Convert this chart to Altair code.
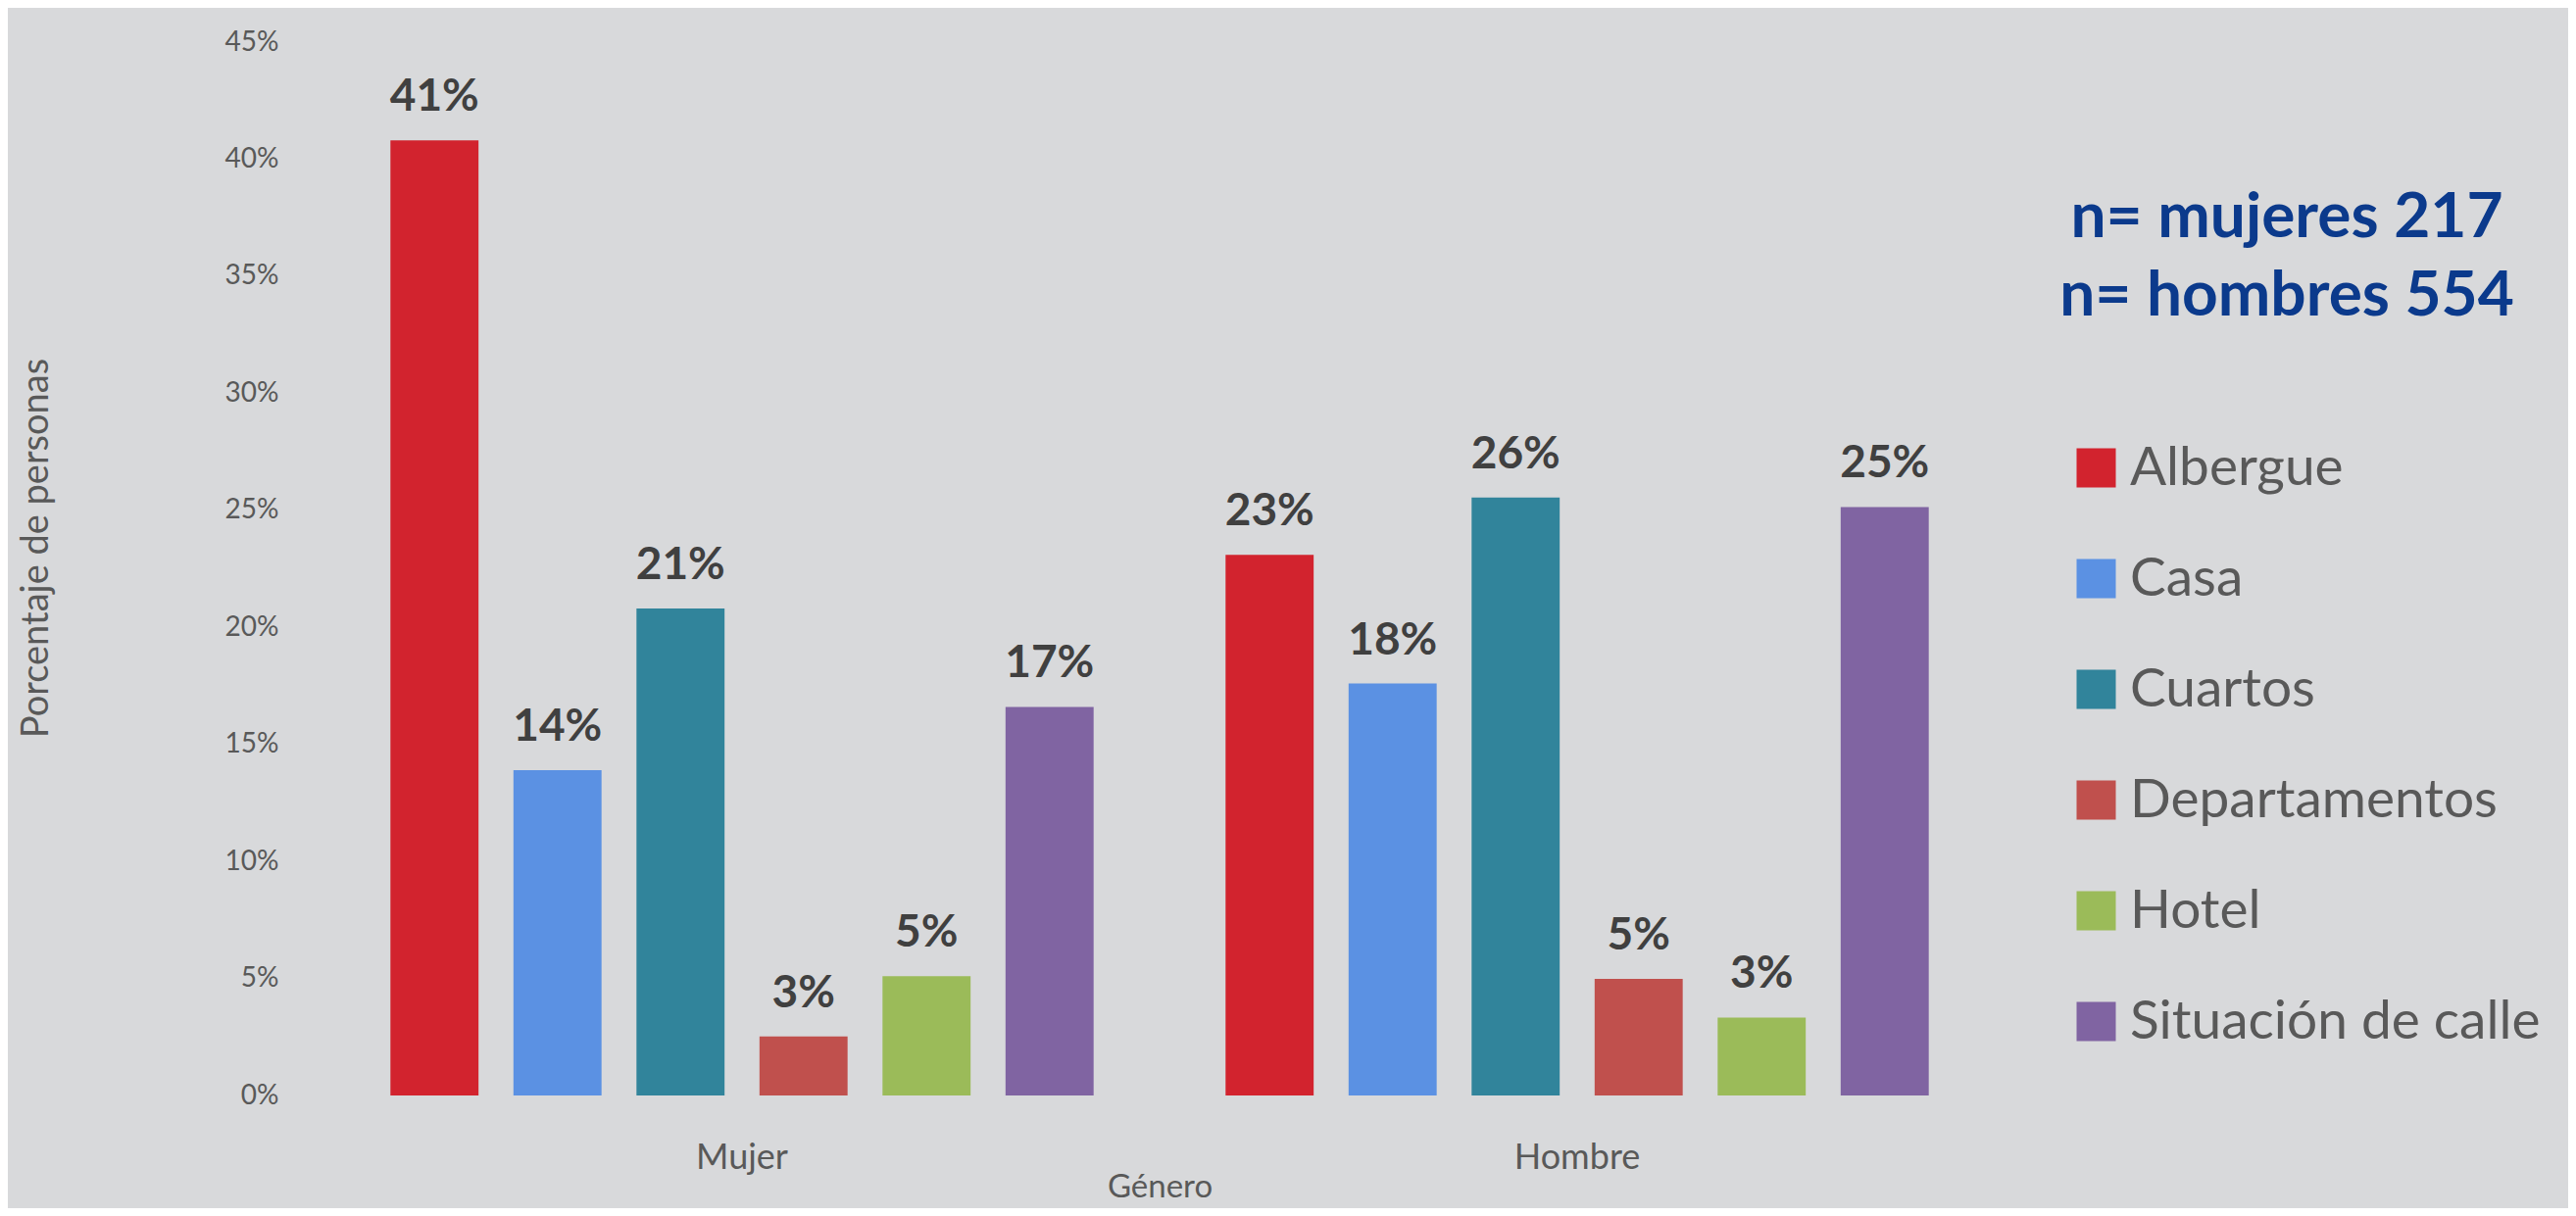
import altair as alt
import pandas as pd

generos = ["Mujer", "Hombre"]
categorias = ["Albergue", "Casa", "Cuartos", "Departamentos", "Hotel", "Situación de calle"]
mujer = [0.408, 0.139, 0.208, 0.0252, 0.051, 0.166]
hombre = [0.231, 0.176, 0.2555, 0.0498, 0.0333, 0.2514]
colores = ["#D2232E", "#5B91E3", "#31849B", "#C0504D", "#9BBB59", "#8064A2"]
notas = ["n= mujeres 217", "n= hombres 554"]
ticks_y = [0, 0.05, 0.10, 0.15, 0.20, 0.25, 0.30, 0.35, 0.40, 0.45]

rows = []
for g, vals in zip(generos, [mujer, hombre]):
    for c, v in zip(categorias, vals):
        rows.append({"Género": g, "Categoría": c, "valor": v})
df = pd.DataFrame(rows)

BG = "#D8D9DB"
GRIS = "#595959"

base = alt.Chart(df).encode(
    x=alt.X(
        "Género:N",
        sort=generos,
        title="Género",
        scale=alt.Scale(paddingInner=0.158, paddingOuter=0.079),
        axis=alt.Axis(
            labelAngle=0, labelFont="Lato", labelFontSize=36, labelColor=GRIS,
            labelPadding=46, ticks=False, domain=False,
            titleFont="Lato", titleFontSize=33, titleColor=GRIS, titleFontWeight="normal",
            titleY=93, titleBaseline="middle",
        ),
    ),
    xOffset=alt.XOffset(
        "Categoría:N", sort=categorias,
        scale=alt.Scale(paddingInner=0.284, paddingOuter=0),
    ),
    y=alt.Y(
        "valor:Q",
        title="Porcentaje de personas",
        scale=alt.Scale(domain=[0, 0.45], nice=False),
        axis=alt.Axis(
            format=".0%", values=ticks_y, grid=False, ticks=False, domain=False,
            labelFont="Lato", labelFontSize=28, labelColor=GRIS,
            labelPadding=47,
            titleFont="Lato", titleFontSize=38, titleColor=GRIS, titleFontWeight="normal",
            titleX=-294, titleY=516, titleAngle=270, titleAlign="center", titleBaseline="middle",
        ),
    ),
)

bars = base.mark_bar().encode(
    color=alt.Color(
        "Categoría:N",
        sort=categorias,
        scale=alt.Scale(domain=categorias, range=colores),
        legend=alt.Legend(
            title=None, orient="none", legendX=1780, legendY=407,
            symbolType="square", symbolSize=1600, symbolStrokeWidth=0, symbolOpacity=1,
            labelFont="Lato", labelFontSize=55, labelColor=GRIS, labelOffset=7,
            rowPadding=57, labelLimit=0,
        ),
    )
)

labels = base.mark_text(
    dy=-30, baseline="alphabetic", align="center",
    font="Lato", fontWeight="bold", fontSize=46, color="#404040",
).encode(text=alt.Text("valor:Q", format=".0%"))

nota1 = alt.Chart(pd.DataFrame({"nota": [notas[0]]})).mark_text(
    font="Lato", fontWeight="bold", fontSize=64, color="#0B3A8C",
    align="center", baseline="middle",
).encode(text="nota:N", x=alt.value(2002), y=alt.value(180))

nota2 = alt.Chart(pd.DataFrame({"nota": [notas[1]]})).mark_text(
    font="Lato", fontWeight="bold", fontSize=64, color="#0B3A8C",
    align="center", baseline="middle",
).encode(text="nota:N", x=alt.value(2002), y=alt.value(260))

chart = alt.layer(bars, labels, nota1, nota2).properties(
    width=1704,
    height=1075,
    background=BG,
    padding={"left": 323, "top": 35, "right": 585, "bottom": 115},
    autosize=alt.AutoSizeParams(type="none"),
).configure_view(stroke=None)

chart.save("out.html", embed_options={"renderer": "svg", "actions": False})
